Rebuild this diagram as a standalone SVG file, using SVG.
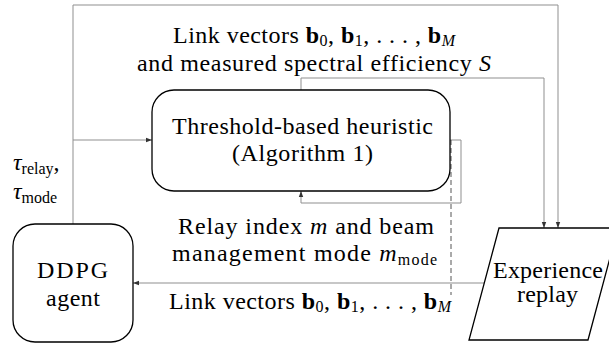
<svg xmlns="http://www.w3.org/2000/svg" width="609" height="345" viewBox="0 0 609 345">
<style>
text{font-family:'Liberation Serif',serif;font-size:24px;fill:#000}
.b{font-weight:bold}
.i{font-style:italic}
.sub{font-size:16px}
.box{fill:#fff;stroke:#000;stroke-width:1.3}
.ln{fill:none;stroke:#8f8f8f;stroke-width:1}
.dash{fill:none;stroke:#555;stroke-width:1;stroke-dasharray:5,3}
</style>
<defs>
<marker id="ah" markerUnits="userSpaceOnUse" markerWidth="6" markerHeight="6" refX="6" refY="3" orient="auto">
<path d="M0,0.8 L6,3 L0,5.2 z" fill="#333"/>
</marker>
</defs>
<rect width="609" height="345" fill="#fff"/>
<g id="connectors">
<polyline class="ln" points="73,224 73,5 558,5 558,228" marker-end="url(#ah)"/>
<polyline class="ln" points="73,140 152,140" marker-end="url(#ah)"/>
<polyline class="ln" points="301,90 301,78 544,78 544,228" marker-end="url(#ah)"/>
<polyline class="ln" points="450,140 461,140 461,203 301,203 301,191" marker-end="url(#ah)"/>
<line class="ln" x1="484" y1="283" x2="133" y2="283" marker-end="url(#ah)"/>
<line class="dash" x1="451" y1="140" x2="451" y2="295"/>
</g>
<g id="threshold">
<rect class="box" x="152" y="90" width="298" height="101" rx="22" ry="22"/>
<text x="302.5" y="134" text-anchor="middle" textLength="261">Threshold-based heuristic</text>
<text x="302.5" y="161" text-anchor="middle" textLength="141">(Algorithm 1)</text>
</g>
<g id="ddpg">
<rect class="box" x="13" y="224" width="120" height="118" rx="22" ry="22"/>
<text x="72.5" y="278" text-anchor="middle" textLength="71">DDPG</text>
<text x="73" y="306" text-anchor="middle" textLength="54">agent</text>
</g>
<g id="replay">
<polygon class="box" points="499,228 618,228 588,340 469,340"/>
<text x="548" y="278" text-anchor="middle" textLength="110">Experience</text>
<text x="547.5" y="302" text-anchor="middle" textLength="61">replay</text>
</g>
<g id="labels">
<text x="314" y="43" text-anchor="middle" textLength="282">Link vectors <tspan class="b">b</tspan><tspan class="sub" dy="3">0</tspan><tspan dy="-3">, </tspan><tspan class="b">b</tspan><tspan class="sub" dy="3">1</tspan><tspan dy="-3">, . . . , </tspan><tspan class="b">b</tspan><tspan class="sub i" dy="3">M</tspan></text>
<text x="314" y="71" text-anchor="middle" textLength="354">and measured spectral efficiency <tspan class="i">S</tspan></text>
<text x="13" y="170"><tspan class="i">τ</tspan><tspan class="sub" dy="4">relay</tspan><tspan dy="-4">,</tspan></text>
<text x="13" y="199"><tspan class="i">τ</tspan><tspan class="sub" dy="4">mode</tspan></text>
<text x="306" y="234" text-anchor="middle" textLength="256">Relay index <tspan class="i">m</tspan> and beam</text>
<text x="304.5" y="261" text-anchor="middle" textLength="265">management mode <tspan class="i">m</tspan><tspan class="sub" dy="4">mode</tspan></text>
<text x="310" y="309" text-anchor="middle" textLength="282">Link vectors <tspan class="b">b</tspan><tspan class="sub" dy="3">0</tspan><tspan dy="-3">, </tspan><tspan class="b">b</tspan><tspan class="sub" dy="3">1</tspan><tspan dy="-3">, . . . , </tspan><tspan class="b">b</tspan><tspan class="sub i" dy="3">M</tspan></text>
</g>
</svg>
